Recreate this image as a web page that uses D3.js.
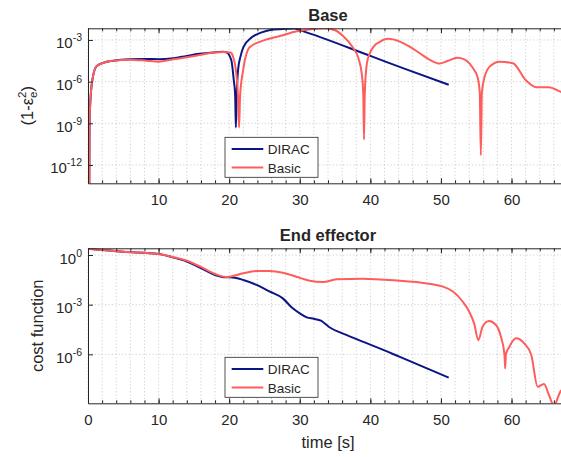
<!DOCTYPE html>
<html>
<head>
<meta charset="utf-8">
<script src="https://cdn.jsdelivr.net/npm/d3@7"></script>
<style>
  body { margin: 0; background: #fff; }
  svg text { font-family: "Liberation Sans", Arial, Helvetica, sans-serif; fill: #262626; }
  .grid { stroke: #c4c4c4; stroke-width: 0.8; stroke-dasharray: 1.2,2.2; }
</style>
</head>
<body>
<svg width="561" height="457"></svg>
<script>
// values (time in s, value on a log axis)
var seriesNames = ['DIRAC', 'Basic'];
var seriesColors = ['#0c1584', '#ff5c5c'];

var baseDiracT = [0.18, 0.22, 0.38, 0.72, 1.2, 2.2, 3.6, 5.9, 8.3, 10, 12.1, 14, 15.8, 17.7, 19.1, 19.6,
  20.3, 20.65, 20.85, 20.95, 21.05, 21.26, 21.6, 22, 23.2, 24.6, 26, 28, 29.3, 30, 40, 45, 51.1];
var baseDiracV = [1e-14, 1e-9, 9.1e-8, 2.5e-6, 1.26e-5, 2.3e-5, 3.2e-5, 4.1e-5, 4.3e-5, 4.1e-5, 4.8e-5, 7.1e-5,
  1e-4, 1.26e-4, 1.41e-4, 1.32e-4, 3.6e-5, 1.3e-6, 1e-7, 5e-10, 6.3e-8, 6.9e-6, 6.3e-5, 2.95e-4, 1.55e-3,
  3.5e-3, 5.5e-3, 6.3e-3, 6.6e-3, 5.1e-3, 7.1e-5, 7.9e-6, 6.0e-7];

var baseBasicT = [0.18, 0.22, 0.38, 0.72, 1.2, 2.2, 3.6, 5.9, 8.3, 10, 12.1, 14, 15.8, 17.7, 19.1, 20.2,
  20.55, 21.0, 21.25, 21.4, 21.55, 21.97, 22.9, 24.8, 27.3, 29.6, 31.5, 33.5, 35, 36.1, 37.5, 38.3, 38.8,
  39.0, 39.1, 39.2, 39.5, 39.9, 40.5, 41.3, 42.5, 44.1, 45.5, 47, 48.5, 49.8, 51, 52.3, 53.3, 54.5, 55.2,
  55.5, 55.65, 55.8, 56.2, 56.9, 58.3, 60.2, 62, 63.5, 65.3, 66.9, 68];
var baseBasicV = [1e-14, 1e-9, 9.1e-8, 2.5e-6, 1.26e-5, 2.3e-5, 3.2e-5, 3.8e-5, 3.2e-5, 2.75e-5, 4.1e-5,
  5.6e-5, 8.3e-5, 1.2e-4, 1.38e-4, 1.26e-4, 6.3e-5, 4e-6, 1e-7, 5e-10, 1e-7, 6.3e-6, 2.95e-4, 8.9e-4,
  2e-3, 4.2e-3, 6e-3, 7.1e-3, 5e-3, 2e-3, 2.95e-4, 5e-5, 3.2e-6, 1e-7, 6.9e-11, 1e-7, 2e-5, 1e-4, 3.5e-4,
  7.1e-4, 1.2e-3, 7.9e-4, 3.5e-4, 1.1e-4, 3.5e-5, 2e-5, 3.2e-5, 5.2e-5, 4e-5, 1e-5, 2e-6, 1.6e-7, 5e-12,
  1.6e-7, 2.3e-6, 1.2e-5, 2.75e-5, 2.1e-5, 1.3e-6, 4e-7, 4e-7, 1.9e-7, 1.26e-7];

var endDiracT = [0, 5, 10, 12, 14, 16, 18, 19.5, 20.1, 22, 23.9, 25.7, 27.6, 29, 30, 31, 32, 33, 34.2,
  36.6, 38.9, 41.3, 44.1, 51.1];
var endDiracV = [2.4, 1.58, 1.15, 0.72, 0.4, 0.16, 0.062, 0.045, 0.045, 0.031, 0.0155, 6.3e-3, 2.4e-3,
  6e-4, 3e-4, 1.7e-4, 1.4e-4, 1.07e-4, 4.3e-5, 1.48e-5, 5.8e-6, 2.3e-6, 7.2e-7, 3.9e-8];

var endBasicT = [0, 5, 10, 12, 14, 16, 18, 19.5, 20.1, 22, 23.9, 25.7, 27.6, 29.5, 31.4, 33.3, 35.2, 38.9,
  44.1, 47, 48.8, 50.3, 51.7, 53.1, 54, 54.7, 55.3, 55.9, 56.8, 57.8, 58.5, 59.0, 59.1, 59.2, 59.7, 60.6,
  61.8, 62.8, 63.7, 64.6, 65.3, 66.0, 66.9, 68];
var endBasicV = [2.4, 1.58, 1.15, 0.76, 0.45, 0.19, 0.071, 0.047, 0.049, 0.079, 0.107, 0.107, 0.085,
  0.049, 0.028, 0.023, 0.034, 0.037, 0.028, 0.022, 0.017, 0.0123, 6.2e-3, 1.5e-3, 3.8e-4, 7.4e-5, 7.2e-6,
  4.7e-5, 1.02e-4, 5.9e-5, 1.15e-5, 1e-6, 1.4e-7, 1e-6, 2.9e-6, 9.3e-6, 4.6e-6, 9.1e-7, 1.1e-8, 1.6e-8,
  3.5e-9, 8e-10, 5.5e-9, 1.26e-8];

var xTicksBase = [10, 20, 30, 40, 50, 60];
var xTicksEnd = [0, 10, 20, 30, 40, 50, 60];
var yTicksBase = [1e-12, 1e-9, 1e-6, 1e-3];
var yTicksEnd = [1e-6, 1e-3, 1];

var svg = d3.select('svg');
var left = 88, right = 568;
var x = d3.scaleLinear().domain([0, 68]).range([left, right]);
var minorX = d3.range(0, 69, 2);

function zip(t, v) {
  return t.map(function(d, i) { return [d, v[i]]; });
}

var panels = [
  {id: 'base', title: 'Base', top: 28.3, bottom: 183.3, yDomain: [4.8e-14, 6.9e-3],
   xTicks: xTicksBase, yTicks: yTicksBase, legendTop: 137.3,
   series: [zip(baseDiracT, baseDiracV), zip(baseBasicT, baseBasicV)]},
  {id: 'end', title: 'End effector', top: 248.3, bottom: 403.3, yDomain: [1.1e-9, 2.54],
   xTicks: xTicksEnd, yTicks: yTicksEnd, legendTop: 357.3,
   series: [zip(endDiracT, endDiracV), zip(endBasicT, endBasicV)]}
];

panels.forEach(function(p) {
  var y = d3.scaleLog().domain(p.yDomain).range([p.bottom, p.top]);
  var g = svg.append('g');

  svg.append('clipPath').attr('id', 'clip-' + p.id)
    .append('rect')
    .attr('x', left).attr('y', p.top)
    .attr('width', right - left).attr('height', p.bottom - p.top);

  // dotted grid: every 2 s vertically, major decades horizontally
  g.append('g').selectAll('line').data(minorX).enter().append('line')
    .attr('class', 'grid')
    .attr('x1', function(d) { return x(d); }).attr('x2', function(d) { return x(d); })
    .attr('y1', p.top).attr('y2', p.bottom);
  g.append('g').selectAll('line').data(p.yTicks).enter().append('line')
    .attr('class', 'grid')
    .attr('x1', left).attr('x2', right)
    .attr('y1', function(d) { return y(d); }).attr('y2', function(d) { return y(d); });

  var line = d3.line()
    .x(function(d) { return x(d[0]); })
    .y(function(d) { return y(d[1]); })
    .curve(d3.curveMonotoneX);

  g.append('g').attr('clip-path', 'url(#clip-' + p.id + ')')
    .selectAll('path').data(p.series).enter().append('path')
    .attr('d', line)
    .attr('fill', 'none')
    .attr('stroke', function(d, i) { return seriesColors[i]; })
    .attr('stroke-width', 2)
    .attr('stroke-linejoin', 'round');

  // axes, ticks pointing inwards like matlab
  g.append('g').attr('transform', 'translate(0,' + p.bottom + ')')
    .call(d3.axisBottom(x).tickValues(p.xTicks).tickSizeInner(-5).tickSizeOuter(0).tickPadding(11)
      .tickFormat(d3.format('d')));
  g.append('g').attr('transform', 'translate(0,' + p.bottom + ')')
    .call(d3.axisBottom(x).tickValues(minorX).tickSizeInner(-3).tickSizeOuter(0).tickFormat(''))
    .select('.domain').remove();
  g.append('g').attr('transform', 'translate(0,' + p.top + ')')
    .call(d3.axisTop(x).tickValues(xTicksEnd).tickSizeInner(-5).tickSizeOuter(0).tickFormat(''));
  g.append('g').attr('transform', 'translate(0,' + p.top + ')')
    .call(d3.axisTop(x).tickValues(minorX).tickSizeInner(-3).tickSizeOuter(0).tickFormat(''))
    .select('.domain').remove();

  var ya = g.append('g').attr('transform', 'translate(' + left + ',0)')
    .call(d3.axisLeft(y).tickValues(p.yTicks).tickSizeInner(-5).tickSizeOuter(0).tickPadding(6));
  ya.selectAll('.tick text').each(function(d) {
    var t = d3.select(this).text('').attr('dy', null).attr('y', 8);
    t.append('tspan').text('10');
    t.append('tspan').attr('dy', -7).attr('font-size', 10.5)
      .text(String(Math.round(Math.log10(d))));
  });

  g.selectAll('.domain, .tick line').attr('stroke', '#262626');
  g.selectAll('.tick text').attr('font-size', 15)
    .attr('font-family', '"Liberation Sans", Arial, sans-serif');

  svg.append('text')
    .attr('x', (left + right) / 2).attr('y', p.top - 7.3)
    .attr('text-anchor', 'middle')
    .attr('font-size', 16.5).attr('font-weight', 'bold')
    .text(p.title);

  // legend
  var lg = svg.append('g').attr('transform', 'translate(225,' + p.legendTop + ')');
  lg.append('rect').attr('width', 93).attr('height', 40)
    .attr('fill', '#fff').attr('stroke', '#262626').attr('stroke-width', 0.8);
  seriesNames.forEach(function(name, i) {
    var ly = 11.7 + i * 18.6;
    lg.append('line').attr('x1', 6.7).attr('x2', 38.3).attr('y1', ly).attr('y2', ly)
      .attr('stroke', seriesColors[i]).attr('stroke-width', 2);
    lg.append('text').attr('x', 42.7).attr('y', ly + 5).attr('font-size', 13.5).text(name);
  });
});

// axis labels
var yl = svg.append('text')
  .attr('transform', 'translate(32.5,105.8) rotate(-90)')
  .attr('text-anchor', 'middle').attr('font-size', 16.5);
yl.append('tspan').text('(1-\u03B5');
yl.append('tspan').attr('font-size', 11.5).attr('dy', -7).text('2');
yl.append('tspan').attr('font-size', 11.5).attr('dx', -6.4).attr('dy', 11).text('e');
yl.append('tspan').attr('dy', -4).text(')');

svg.append('text')
  .attr('transform', 'translate(43,325.8) rotate(-90)')
  .attr('text-anchor', 'middle').attr('font-size', 16.5)
  .text('cost function');

svg.append('text')
  .attr('x', (left + right) / 2).attr('y', 447.5)
  .attr('text-anchor', 'middle').attr('font-size', 16.5)
  .text('time [s]');
</script>
</body>
</html>
